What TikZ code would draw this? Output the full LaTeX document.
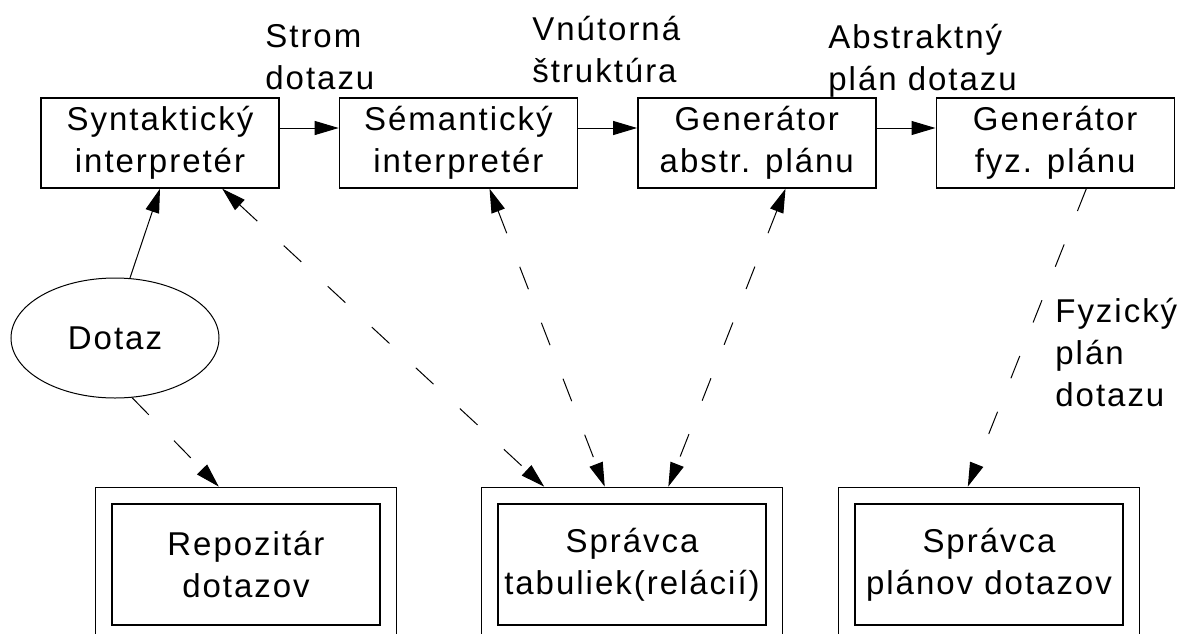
\documentclass[tikz,border=0pt]{standalone}
\usepackage{fontspec}
\setmainfont{Liberation Sans}[LetterSpace=6]
\usetikzlibrary{arrows.meta,positioning,calc,fit,shapes.geometric}

\tikzset{
  proc/.style={draw, line width=0.7pt, minimum width=119pt, minimum height=45pt,
               align=center, inner sep=0pt},
  store/.style={draw, line width=0.7pt, minimum width=134pt, minimum height=60.5pt,
                align=center, inner sep=0pt},
  storeframe/.style={draw, line width=0.7pt, inner sep=8pt},
  flow/.style={-{Triangle[length=12pt,width=7pt]}, line width=0.5pt},
  look/.style={flow, dash pattern=on 12pt off 18pt},
  lookboth/.style={{Triangle[length=12pt,width=7pt]}-{Triangle[length=12pt,width=7pt]},
                   line width=0.5pt, dash pattern=on 12pt off 18pt},
  lbl/.style={anchor=north west, align=left, inner sep=0pt}
}

\begin{document}
\begin{tikzpicture}[x=0.5pt,y=-0.5pt,
    every node/.style={font=\fontsize{16.5}{21}\selectfont}]
\useasboundingbox (0,0) rectangle (1179,633);
\clip (0,0) rectangle (1179,633);

% query processing chain
\node[proc] (syn) at (160,143) {Syntaktický\\interpretér};
\node[proc, right=29.5pt of syn] (sem) {Sémantický\\interpretér};
\node[proc, right=29.5pt of sem] (gab) {Generátor\\abstr. plánu};
\node[proc, right=29.5pt of gab] (gfy) {Generátor\\fyz. plánu};

\node[ellipse, draw, line width=0.5pt, minimum width=104pt, minimum height=60pt,
      inner sep=0pt] (dot) at (115,338) {Dotaz};

% storage managers
\node[store] (rep) at (246,564.5) {Repozitár\\dotazov};
\node[storeframe, fit=(rep)] (repO) {};
\node[store] (spr) at (632,564.5) {Správca\\tabuliek(relácií)};
\node[storeframe, fit=(spr)] (sprO) {};
\node[store] (pln) at (989,564.5) {Správca\\plánov dotazov};
\node[storeframe, fit=(pln)] (plnO) {};

% labels
\node[lbl] (strom) at (265,24) {Strom\\dotazu};
\node[lbl] (vnut) at (532,16) {Vnútorná\\štruktúra};
\node[lbl] (abst) at (828,24) {Abstraktný\\plán dotazu};
\node[lbl] (fyz) at (1055,298) {Fyzický\\plán\\dotazu};

% connectors
\draw[flow] ([yshift=7.5pt]syn.east) -- ([yshift=7.5pt]sem.west);
\draw[flow] ([yshift=7.5pt]sem.east) -- ([yshift=7.5pt]gab.west);
\draw[flow] ([yshift=7.5pt]gab.east) -- ([yshift=7.5pt]gfy.west);
\draw[flow] (dot.76) -- (syn.south);

\draw[look] (dot.-74) -- ($(repO.north west)!0.41!(repO.north east)$);
\draw[lookboth] ($(syn.south west)!0.76!(syn.south east)$) -- ($(sprO.north west)!0.21!(sprO.north east)$);
\draw[lookboth] ($(sem.south west)!0.63!(sem.south east)$) -- ($(sprO.north west)!0.41!(sprO.north east)$);
\draw[lookboth] ($(gab.south west)!0.62!(gab.south east)$) -- ($(sprO.north west)!0.62!(sprO.north east)$);
\draw[look] ($(gfy.south west)!0.63!(gfy.south east)$) -- ($(plnO.north west)!0.43!(plnO.north east)$);
\end{tikzpicture}
\end{document}
